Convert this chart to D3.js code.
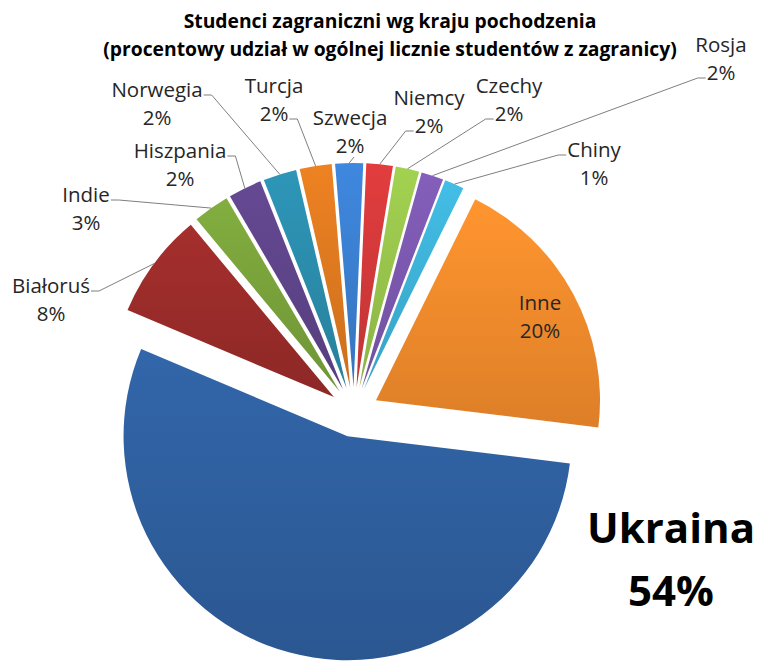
<!DOCTYPE html>
<html>
<head>
<meta charset="utf-8">
<script src="https://cdn.jsdelivr.net/npm/d3@7"></script>
<style>
  body { margin: 0; background: #fff; }
  svg { display: block; }
  text { font-family: "Open Sans", "Noto Sans", sans-serif; }
</style>
</head>
<body>
<div id="chart"></div>
<script>
var countries = ["Ukraina", "Białoruś", "Indie", "Hiszpania", "Norwegia", "Turcja",
                 "Szwecja", "Niemcy", "Czechy", "Rosja", "Chiny", "Inne"];
var shares = [54.3, 7.6, 2.6, 2.4, 2.4, 2.3, 2.0, 1.9, 1.7, 1.6, 1.4, 19.6];
var colors = ["#2f5f9e", "#9a2c2a", "#79a23b", "#5e4489", "#2b8cab", "#de7920",
              "#3b7fd0", "#d2393a", "#98c44b", "#7b58ae", "#3db1d6", "#f28b2c"];
var titleLines = ["Studenci zagraniczni wg kraju pochodzenia",
                  "(procentowy udział w ogólnej licznie studentów z zagranicy)"];

// where each label sits (text centre x, first baseline) and which side the leader leaves from
var labelPos = {
  "Białoruś": [51, 293, "r1"],
  "Indie": [86, 202, "r1"],
  "Hiszpania": [180, 158, "r1"],
  "Norwegia": [157, 97, "r1"],
  "Turcja": [274, 93, "r2"],
  "Szwecja": [350, 125, "b"],
  "Niemcy": [429, 105, "l2"],
  "Czechy": [509, 93, "l2"],
  "Rosja": [721, 52, "l2"],
  "Chiny": [594, 157, "l1"],
  "Inne": [540, 310, "in"],
  "Ukraina": [671, 543, "big"]
};

var width = 761, height = 663;
var cx = 354, cy = 412, radius = 224, explode = 25;

var svg = d3.select("#chart").append("svg")
    .attr("width", width)
    .attr("height", height);

var data = countries.map(function(c, i) { return {name: c, value: shares[i], color: colors[i]}; });
var total = d3.sum(shares);
var pct = d3.format(".0%");

var start = 97 * Math.PI / 180;
var pie = d3.pie().sort(null).value(function(d) { return d.value; })
    .startAngle(start).endAngle(start + 2 * Math.PI);
var arc = d3.arc().innerRadius(0).outerRadius(radius);
var arcs = pie(data);

//gradients, lighter at the top
var defs = svg.append("defs");
arcs.forEach(function(d, i) {
  var g = defs.append("linearGradient").attr("id", "grad" + i)
      .attr("x1", 0).attr("y1", 0).attr("x2", 0).attr("y2", 1);
  g.append("stop").attr("offset", "0%").attr("stop-color", d3.color(d.data.color).brighter(0.2));
  g.append("stop").attr("offset", "100%").attr("stop-color", d3.color(d.data.color).darker(0.25));
});

function mid(d) { return (d.startAngle + d.endAngle) / 2; }
function offset(d) {
  var a = mid(d);
  return [Math.sin(a) * explode, -Math.cos(a) * explode];
}

var g = svg.append("g").attr("transform", "translate(" + cx + "," + cy + ")");

g.selectAll("path.slice")
  .data(arcs)
  .enter().append("path")
    .attr("class", "slice")
    .attr("d", arc)
    .attr("transform", function(d) { return "translate(" + offset(d) + ")"; })
    .attr("fill", function(d, i) { return "url(#grad" + i + ")"; });

// title
svg.selectAll("text.title")
  .data(titleLines)
  .enter().append("text")
    .attr("class", "title")
    .attr("x", 390)
    .attr("y", function(d, i) { return 28 + i * 28; })
    .attr("text-anchor", "middle")
    .style("font-size", "19.3px")
    .style("font-weight", "bold")
    .attr("fill", "#000")
    .text(function(d) { return d; });

// labels + leader lines
var labels = svg.append("g");
var leaders = svg.append("g");

arcs.forEach(function(d) {
  var p = labelPos[d.data.name];
  var x = p[0], y = p[1], side = p[2];
  var lines = [d.data.name, pct(d.data.value / total)];

  if (side == "big") {
    labels.selectAll(null).data(lines).enter().append("text")
      .attr("x", x).attr("y", function(t, i) { return y + i * 63; })
      .attr("text-anchor", "middle")
      .style("font-size", "42px").style("font-weight", "bold")
      .attr("fill", "#000")
      .text(function(t) { return t; });
    return;
  }

  var t = labels.selectAll(null).data(lines).enter().append("text")
      .attr("x", x).attr("y", function(t, i) { return y + i * 28; })
      .attr("text-anchor", "middle")
      .style("font-size", "20.5px")
      .attr("fill", "#262626")
      .text(function(t) { return t; });

  if (side == "in") return;

  var w = t.nodes().map(function(n) { return n.getComputedTextLength(); });
  var a = mid(d), r = radius + explode;
  var end = [cx + Math.sin(a) * r, cy - Math.cos(a) * r];
  var pts;
  if (side == "r1") pts = [[x + w[0] / 2 + 1, y - 2], [x + w[0] / 2 + 9, y - 2]];
  else if (side == "r2") pts = [[x + w[1] / 2 + 1, y + 26], [x + w[1] / 2 + 9, y + 26]];
  else if (side == "l1") pts = [[x - w[0] / 2 - 1, y - 2], [x - w[0] / 2 - 9, y - 2]];
  else if (side == "l2") pts = [[x - w[1] / 2 - 1, y + 26], [x - w[1] / 2 - 9, y + 26]];
  else pts = [[x + 4, y + 32]];
  pts.push(end);

  leaders.append("path")
    .attr("d", d3.line()(pts))
    .attr("fill", "none")
    .attr("stroke", "#7f7f7f")
    .attr("stroke-width", 1);
});
</script>
</body>
</html>
